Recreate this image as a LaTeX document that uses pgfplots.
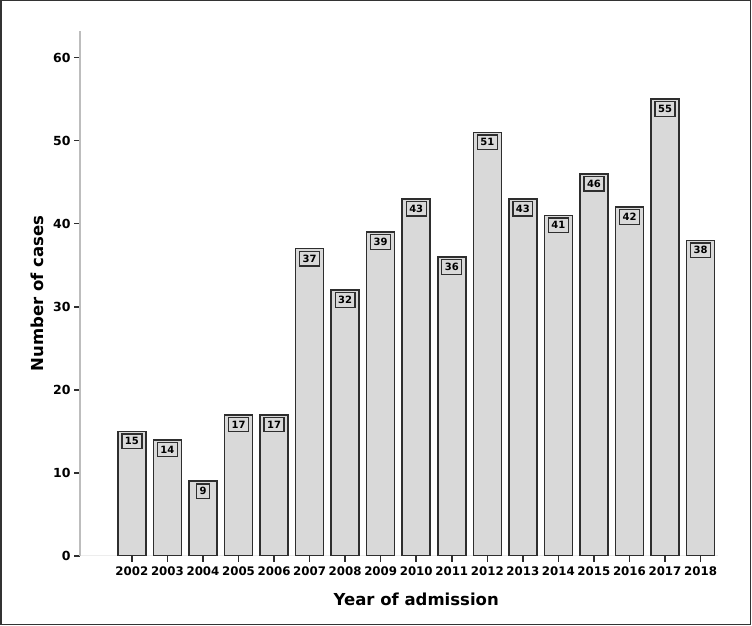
\documentclass[border=0pt]{standalone}
\usepackage{fontspec}
\setmainfont{DejaVu Sans}
\usepackage{pgfplots}
\pgfplotsset{compat=1.18}

\definecolor{barfill}{HTML}{D9D9D9}
\definecolor{baredge}{HTML}{2E2E2E}
\definecolor{yaxisgray}{HTML}{BDBDBD}
\definecolor{xaxisgray}{HTML}{EDEDED}

\begin{document}
\begin{tikzpicture}
\useasboundingbox (0,0) rectangle (752pt,626pt);
\draw[line width=1.5pt, draw=black!80] (0.75pt,1.5pt) rectangle (750.5pt,625.25pt);
\begin{axis}[
  at={(80pt,70pt)}, anchor=south west,
  scale only axis, width=638pt, height=525pt,
  ybar, bar width=28pt,
  xmin=2000.54, xmax=2018.49,
  ymin=0, ymax=63.2,
  axis x line*=bottom, axis y line*=left,
  x axis line style={draw=xaxisgray, line width=1pt},
  y axis line style={draw=yaxisgray, line width=1.5pt},
  xtick={2002,...,2018},
  ytick={0,10,...,60},
  tick align=outside,
  major tick length=6pt,
  tick style={draw=baredge, line width=1.5pt},
  /pgf/number format/assume math mode=true,
  /pgf/number format/1000 sep={},
  yticklabel style={font=\bfseries\fontsize{12.5}{14}\selectfont},
  xticklabel style={font=\bfseries\fontsize{11.8}{14}\selectfont, yshift=-1pt},
  xlabel={Year of admission},
  ylabel={Number of cases},
  xlabel style={font=\bfseries\fontsize{16.5}{18}\selectfont,
    at={(axis description cs:0.527,-0.082)}, anchor=center},
  ylabel style={font=\bfseries\fontsize{16.5}{18}\selectfont,
    at={(axis description cs:-0.0674,0.5)}, anchor=center},
  nodes near coords,
  every node near coord/.append style={anchor=north, yshift=-2pt,
    draw=baredge, line width=1.3pt, fill=barfill,
    inner xsep=3pt, inner ysep=3.5pt,
    font=\bfseries\fontsize{10}{11}\selectfont},
]
\addplot[fill=barfill, draw=baredge, line width=1.6pt] coordinates {
  (2002,15) (2003,14) (2004,9) (2005,17) (2006,17) (2007,37)
  (2008,32) (2009,39) (2010,43) (2011,36) (2012,51) (2013,43)
  (2014,41) (2015,46) (2016,42) (2017,55) (2018,38)
};
\end{axis}
\end{tikzpicture}
\end{document}
